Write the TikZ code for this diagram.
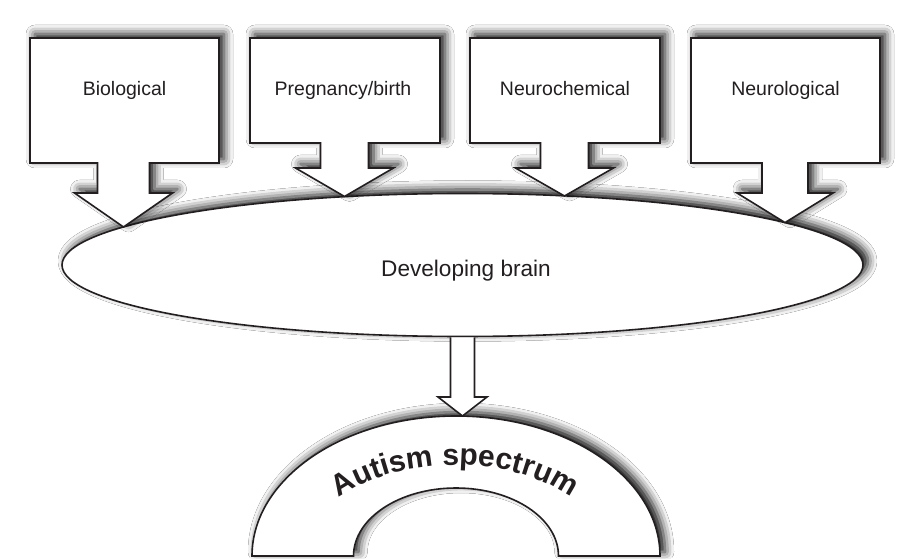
\documentclass[tikz,border=0pt]{standalone}
\usepackage{fontspec}
\setmainfont{Liberation Sans}
\usetikzlibrary{shapes.geometric,shadows.blur,decorations.text}
\definecolor{ink}{HTML}{231F20}
\tikzset{
  outline/.style={draw=ink, line width=1.6pt, fill=white, line join=miter},
  soft/.style={blur shadow={shadow xshift=5pt, shadow yshift=4pt,
      shadow blur radius=9pt, shadow opacity=95}},
  label/.style={font=\fontsize{19.5}{22}\selectfont, text=ink, inner sep=0pt, anchor=base},
}
\begin{document}
\begin{tikzpicture}[x=1pt,y=1pt]
\useasboundingbox (0,0) rectangle (910,558);
\fill[white] (0,0) rectangle (910,558);

% central ellipse
\node[outline, soft, ellipse, minimum width=801pt, minimum height=143pt, inner sep=0pt]
  (brain) at (462.5,293) {};
\node[font=\fontsize{22.6}{26}\selectfont, text=ink, anchor=base] (brainlabel) at (466,282) {Developing brain};

% arrow tips resting on the ellipse
\coordinate (t1) at (123.5,331);
\coordinate (t2) at (344.5,361.5);
\coordinate (t3) at (564.5,362);
\coordinate (t4) at (785,335.4);

% callout boxes with block arrows
\path[outline, soft] (30,520) -- (219,520) -- (219,395) -- (149.5,395) -- (149.5,365)
  -- (172.5,365) -- (t1) -- (74.5,365) -- (97.5,365) -- (97.5,395) -- (30,395) -- cycle;
\path[outline, soft] (250,520) -- (440,520) -- (440,415) -- (368.5,415) -- (368.5,390)
  -- (393.5,390) -- (t2) -- (295.5,390) -- (320.5,390) -- (320.5,415) -- (250,415) -- cycle;
\path[outline, soft] (470,520) -- (660,520) -- (660,415) -- (588.5,415) -- (588.5,390)
  -- (613.5,390) -- (t3) -- (515.5,390) -- (540.5,390) -- (540.5,415) -- (470,415) -- cycle;
\path[outline, soft] (691,520) -- (880,520) -- (880,395) -- (808,395) -- (808,365)
  -- (833,365) -- (t4) -- (737,365) -- (762,365) -- (762,395) -- (691,395) -- cycle;

\node[label] (bio)   at (124.5,462) {Biological};
\node[label] (preg)  at (343,462)   {Pregnancy/birth};
\node[label] (chem)  at (565,462)   {Neurochemical};
\node[label] (neuro) at (785.5,462) {Neurological};

% arch
\coordinate (archtop) at (456,142);
\path[outline, soft] (252,2) arc[start angle=180, end angle=0, x radius=204, y radius=140]
  -- (558.5,2) arc[start angle=0, end angle=180, x radius=102.5, y radius=68] -- cycle;
\path[decorate, decoration={text along path, text align=center,
    text={|\fontsize{30}{33}\selectfont\bfseries\color{ink}|Autism spectrum}}]
  (304,2) arc[start angle=180, end angle=0, x radius=151, y radius=91];

% block arrow from the ellipse down to the arch
\path[outline] ([xshift=-12pt]brain.south) -- ([xshift=-12pt]brain.south |- 0,161)
  -- ([xshift=-24.5pt]brain.south |- 0,161) -- (brain.south |- archtop)
  -- ([xshift=24.5pt]brain.south |- 0,161) -- ([xshift=12pt]brain.south |- 0,161)
  -- ([xshift=12pt]brain.south);
\end{tikzpicture}
\end{document}
